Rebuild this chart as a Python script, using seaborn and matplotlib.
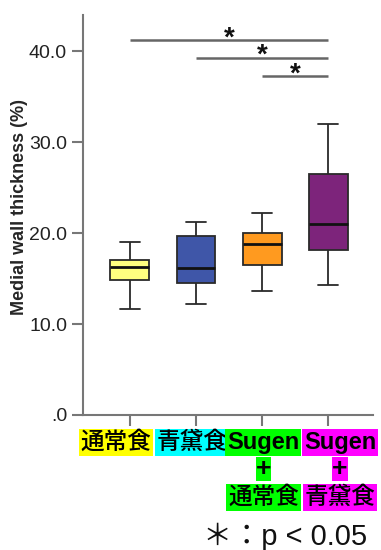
import numpy as np
import pandas as pd
import matplotlib
matplotlib.use("Agg")
import matplotlib.pyplot as plt
import seaborn as sns
from matplotlib.transforms import blended_transform_factory

# ---- data (five-number summaries: min, Q1, median, Q3, max)
groups = ["通常食", "青黛食", "Sugen+通常食", "Sugen+青黛食"]
g1 = [11.6, 14.8, 16.3, 17.0, 19.0]
g2 = [12.2, 14.5, 16.2, 19.7, 21.2]
g3 = [13.6, 16.5, 18.8, 20.0, 22.2]
g4 = [14.3, 18.1, 21.0, 26.5, 32.0]
box_colors = ["#FFFF80", "#3F56A8", "#FF9A1F", "#7D247B"]

label_lines = [["通常食"], ["青黛食"], ["Sugen", "+", "通常食"], ["Sugen", "+", "青黛食"]]
label_bg = ["#FFFF00", "#00FFFF", "#00FF00", "#FF00FF"]

sig_from = [0, 1, 2]
sig_to = 3
sig_y = [41.2, 39.3, 37.3]

yticks = [0, 10, 20, 30, 40]
ytick_labels = [".0", "10.0", "20.0", "30.0", "40.0"]

# ---- build table
rows = []
for name, vals in zip(groups, [g1, g2, g3, g4]):
    for v in vals:
        rows.append({"group": name, "value": v})
df = pd.DataFrame(rows)

sns.set_style("ticks")
plt.rcParams["font.family"] = ["Liberation Sans", "Noto Sans CJK JP", "DejaVu Sans"]

fig = plt.figure(figsize=(3.81, 5.5), dpi=100)
ax = fig.add_axes([0.218, 0.2455, 0.761, 0.7275])

sns.boxplot(data=df, x="group", y="value", hue="group", order=groups,
            hue_order=groups, palette=box_colors, saturation=1, width=0.59,
            whis=(0, 100), linecolor="#2a2a2a", linewidth=1.3,
            medianprops=dict(color="#111111", linewidth=2.0),
            legend=False, ax=ax)

ax.set_xlim(-0.71, 3.68)
ax.set_ylim(0, 44)
ax.set_yticks(yticks)
ax.set_yticklabels(ytick_labels)
ax.set_xticks(range(len(groups)))
ax.set_xticklabels([""] * len(groups))
ax.set_xlabel("")
ax.set_ylabel("Medial wall thickness (%)", fontsize=13, fontweight="bold")
ax.yaxis.set_label_coords(-0.19, 0.52)

for s in ["top", "right"]:
    ax.spines[s].set_visible(False)
for s in ["left", "bottom"]:
    ax.spines[s].set_color("#777777")
    ax.spines[s].set_linewidth(1.5)
ax.tick_params(length=8, width=1.5, color="#777777", labelsize=14, labelcolor="#222222")

# significance bars
for i0, y in zip(sig_from, sig_y):
    ax.plot([i0, sig_to], [y, y], color="#666666", lw=1.8, solid_capstyle="butt")
    ax.text((i0 + sig_to) / 2, y - 0.6, "*", ha="center", va="baseline",
            fontsize=20, fontweight="bold", color="#111111")

# category labels with highlight boxes
lbl_dx = [-0.21, -0.06, 0.02, 0.18]
line_y = [0.196, 0.147, 0.096]
tr = blended_transform_factory(ax.transData, fig.transFigure)
for i, (lines, bg) in enumerate(zip(label_lines, label_bg)):
    for j, t in enumerate(lines):
        if t in ("Sugen", "+"):
            fam = ["Liberation Sans"]
            fw = "bold"
        else:
            fam = ["Noto Sans CJK JP"]
            fw = "medium"
        fs = 19 if t == "+" else 17
        pad = 0.0 if t == "+" else 0.08
        ax.text(i + lbl_dx[i], line_y[j], t, transform=tr, ha="center", va="center",
                fontsize=fs, fontweight=fw, family=fam, color="black", clip_on=False,
                bbox=dict(boxstyle=f"square,pad={pad}", fc=bg, ec="none"))

fig.text(0.963, 0.0245, "＊：p < 0.05", ha="right", va="center", fontsize=21,
         family=["Liberation Sans", "Noto Sans CJK JP"], color="#111111")

fig.savefig("out.png", dpi=100)
